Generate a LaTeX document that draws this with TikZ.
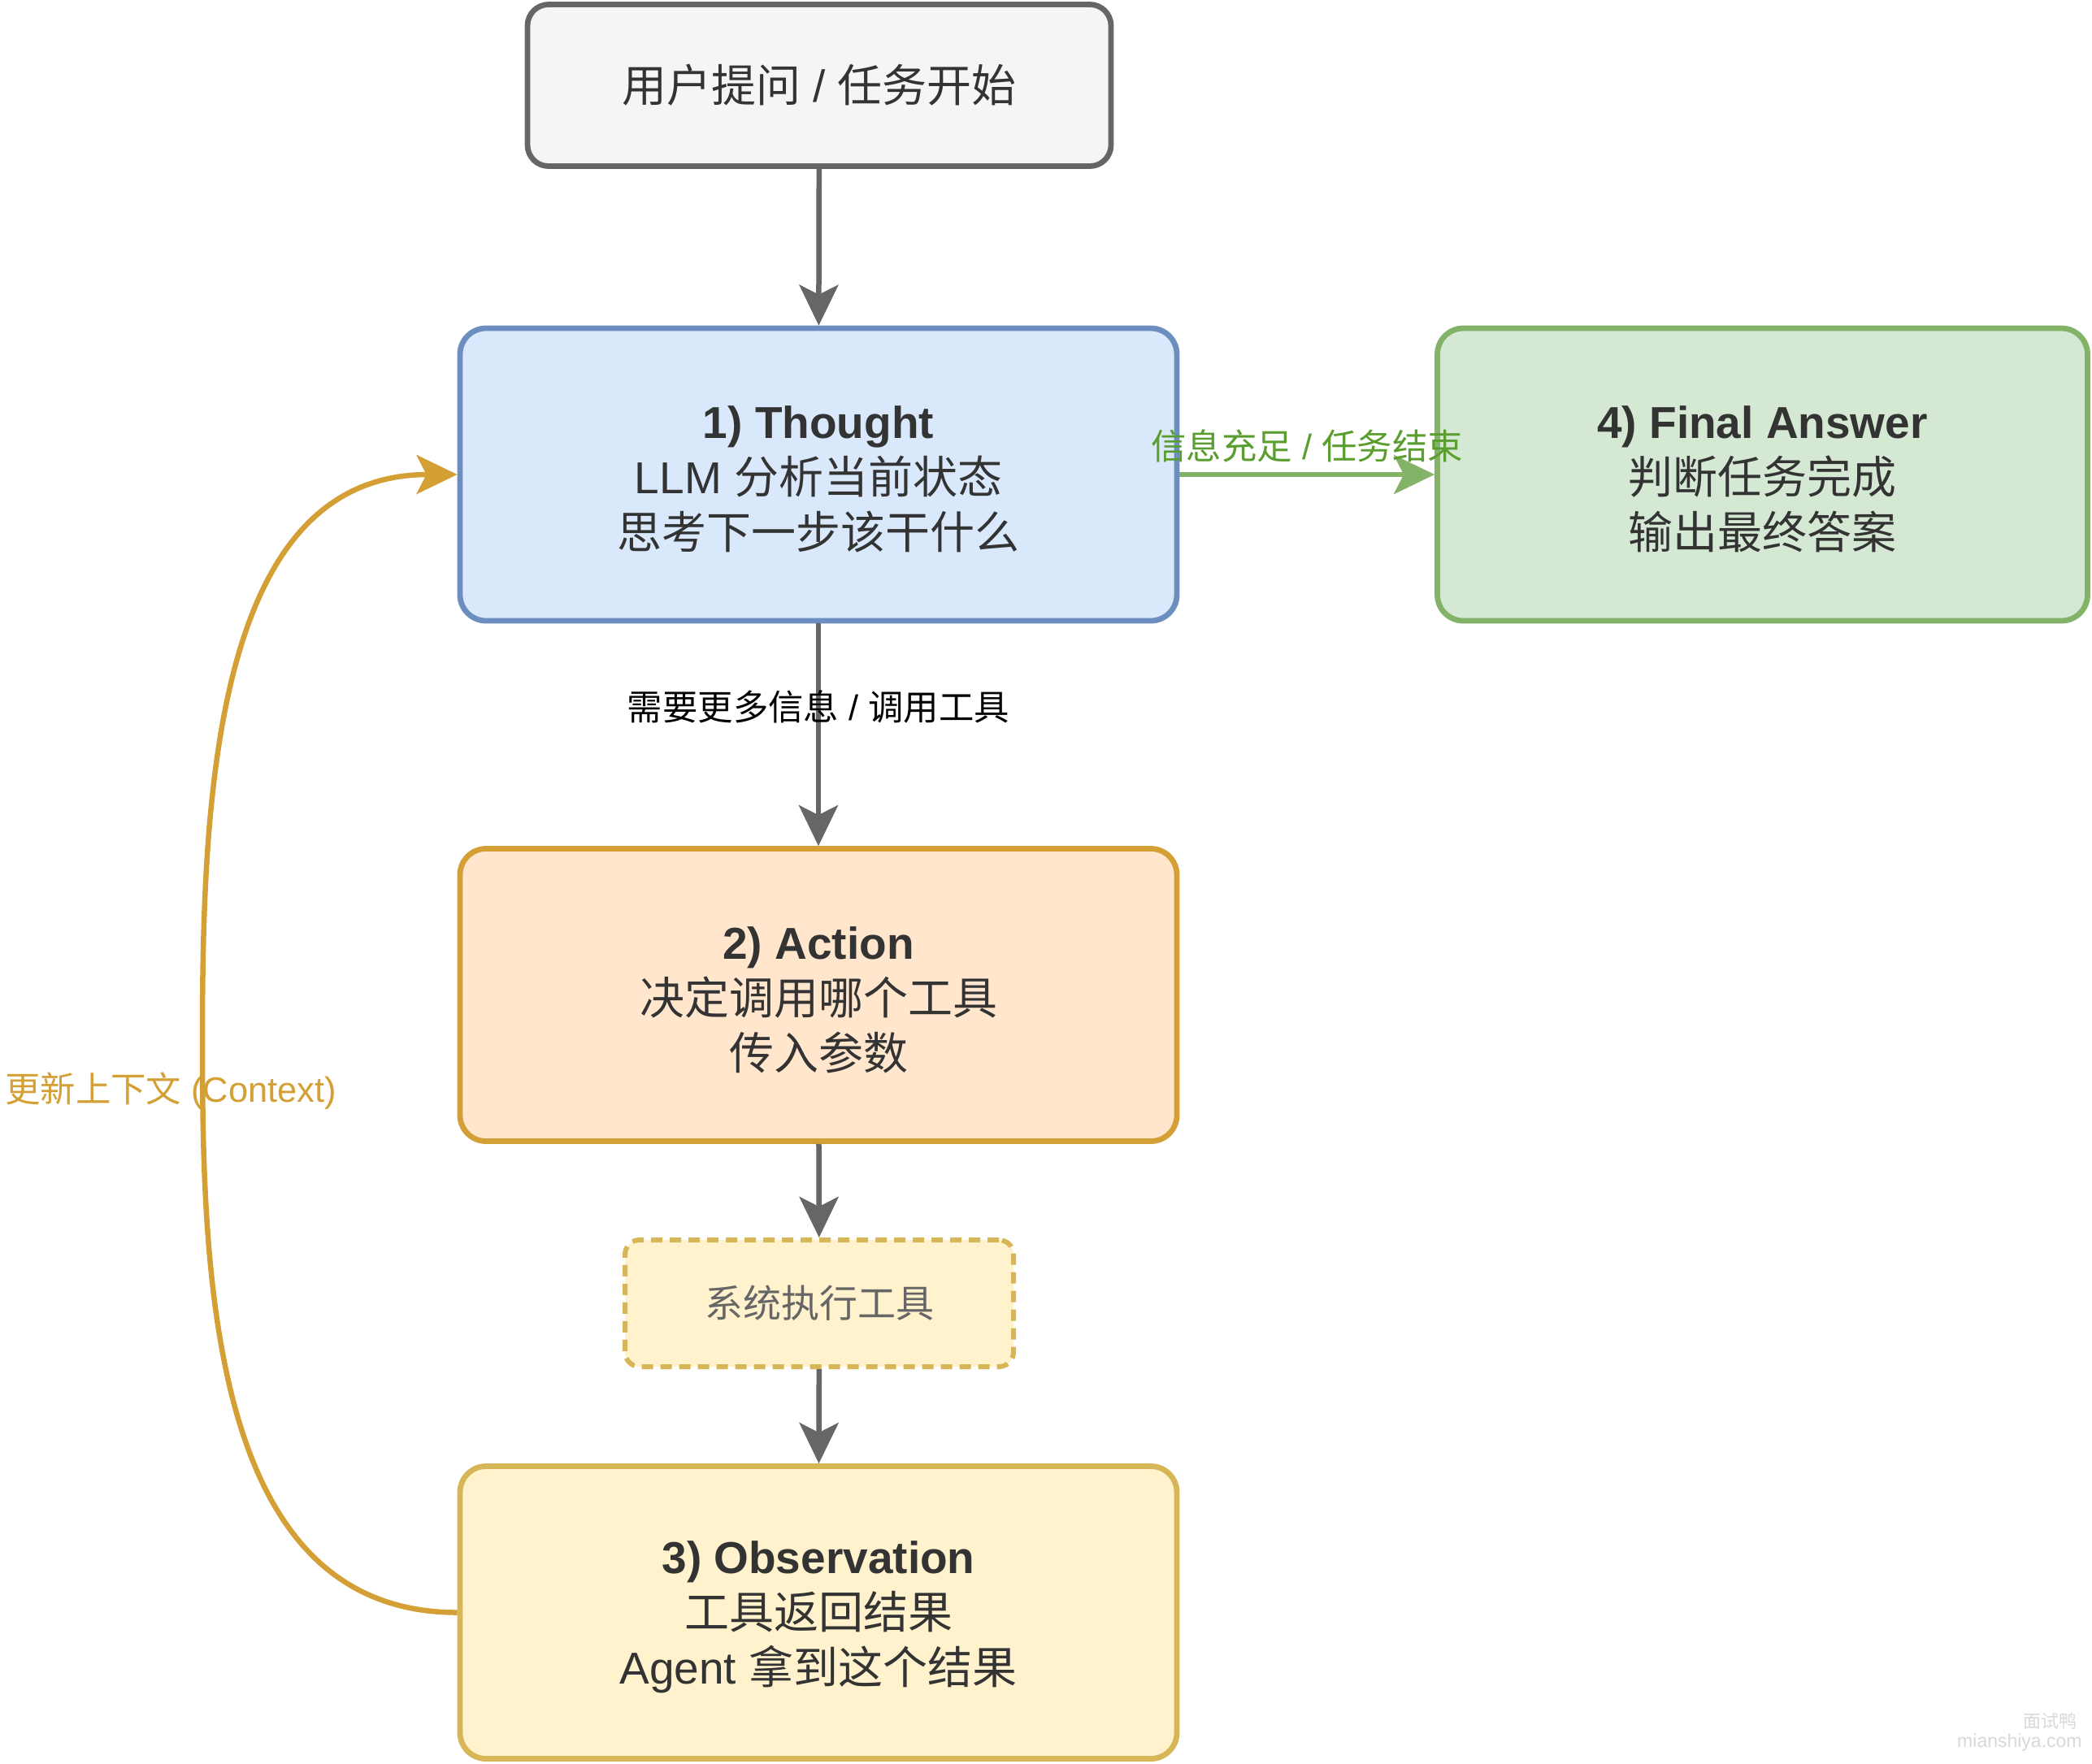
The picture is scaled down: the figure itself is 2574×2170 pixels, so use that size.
\documentclass[tikz,border=0pt]{standalone}
\usepackage{fontspec}
\setmainfont{Liberation Sans}
\newfontfamily\cjk{Noto Sans CJK SC}
\usetikzlibrary{arrows.meta}
\definecolor{linegray}{HTML}{666666}
\definecolor{txt}{HTML}{333333}
\definecolor{topfill}{HTML}{F5F5F5}
\definecolor{bluefill}{HTML}{DAE8FC}
\definecolor{bluedraw}{HTML}{6C8EBF}
\definecolor{greenfill}{HTML}{D5E8D4}
\definecolor{greendraw}{HTML}{82B366}
\definecolor{greentext}{HTML}{5A9E2F}
\definecolor{orangefill}{HTML}{FFE6CC}
\definecolor{orangedraw}{HTML}{D4A035}
\definecolor{yellowfill}{HTML}{FFF2CC}
\definecolor{yellowdraw}{HTML}{D6B656}
\definecolor{ctxcolor}{HTML}{D4A035}
\definecolor{wmark}{HTML}{D9D9D9}
\newcommand{\firstln}{\rule{0pt}{26pt}}
\begin{document}
\begin{tikzpicture}[x=0.5pt,y=-0.5pt,
  box/.style={rounded corners=16pt, line width=3.4pt, align=center, inner sep=0pt,
    text=txt, font=\fontsize{27.5}{34}\selectfont, minimum width=441pt, minimum height=180pt},
  conn/.style={draw=linegray, line width=3.25pt,
    -{Stealth[length=25pt, width=24pt, inset=6pt]}},
  lbl/.style={font=\fontsize{21.7}{26}\selectfont, inner sep=0pt}
]
\useasboundingbox (0,0) rectangle (2574,2170);
\fill[white] (0,0) rectangle (2574,2170);

\node[box, draw=linegray, fill=topfill, rounded corners=13pt, minimum width=359pt, minimum height=99.5pt]
  (start) at (1008,105) {{\cjk 用户提问} / {\cjk 任务开始}};

\node[box, draw=bluedraw, fill=bluefill] (thought) at (1007,584)
  {\firstln{\bfseries 1) Thought}\\LLM {\cjk 分析当前状态}\\{\cjk 思考下一步该干什么}};

\node[box, draw=greendraw, fill=greenfill, minimum width=400pt] (final) at (2168.5,584)
  {\firstln{\bfseries 4) Final Answer}\\{\cjk 判断任务完成}\\{\cjk 输出最终答案}};

\node[box, draw=orangedraw, fill=orangefill] (action) at (1007,1224.5)
  {\firstln{\bfseries 2) Action}\\{\cjk 决定调用哪个工具}\\{\cjk 传入参数}};

\node[box, draw=yellowdraw, fill=yellowfill, dashed, dash pattern=on 7pt off 4.5pt,
  line width=3pt, rounded corners=9pt, minimum width=239pt, minimum height=78pt,
  text=linegray, font=\fontsize{23.5}{28}\selectfont] (exec) at (1008,1604)
  {\cjk 系统执行工具};

\node[box, draw=yellowdraw, fill=yellowfill] (obs) at (1007,1984.5)
  {\firstln{\bfseries 3) Observation}\\{\cjk 工具返回结果}\\Agent {\cjk 拿到这个结果}};

\draw[conn] (start) -- (thought);
\draw[conn] (thought) -- node[lbl, pos=0.375, text=black] (needlbl)
  {{\cjk 需要更多信息} / {\cjk 调用工具}} (action);
\draw[conn, draw=greendraw] (thought) -- node[lbl, midway, yshift=17.5pt, text=greentext] (donelbl)
  {{\cjk 信息充足} / {\cjk 任务结束}} (final);
\draw[conn] (action) -- (exec);
\draw[conn] (exec) -- (obs);

\coordinate (bend) at (249,1284);
\draw[conn, draw=ctxcolor] (obs.west) to[out=180, in=-90] (bend) to[out=90, in=180] (thought.west);
\node[lbl, text=ctxcolor] (ctx) at (210,1343) {{\cjk 更新上下文} (Context)};

\node[inner sep=0pt, anchor=east, text=wmark, font=\fontsize{11}{13}\selectfont] (wm1) at (2556,2118) {\cjk 面试鸭};
\node[inner sep=0pt, anchor=east, text=wmark, font=\fontsize{11.5}{13}\selectfont] (wm2) at (2562,2145) {mianshiya.com};
\end{tikzpicture}
\end{document}
